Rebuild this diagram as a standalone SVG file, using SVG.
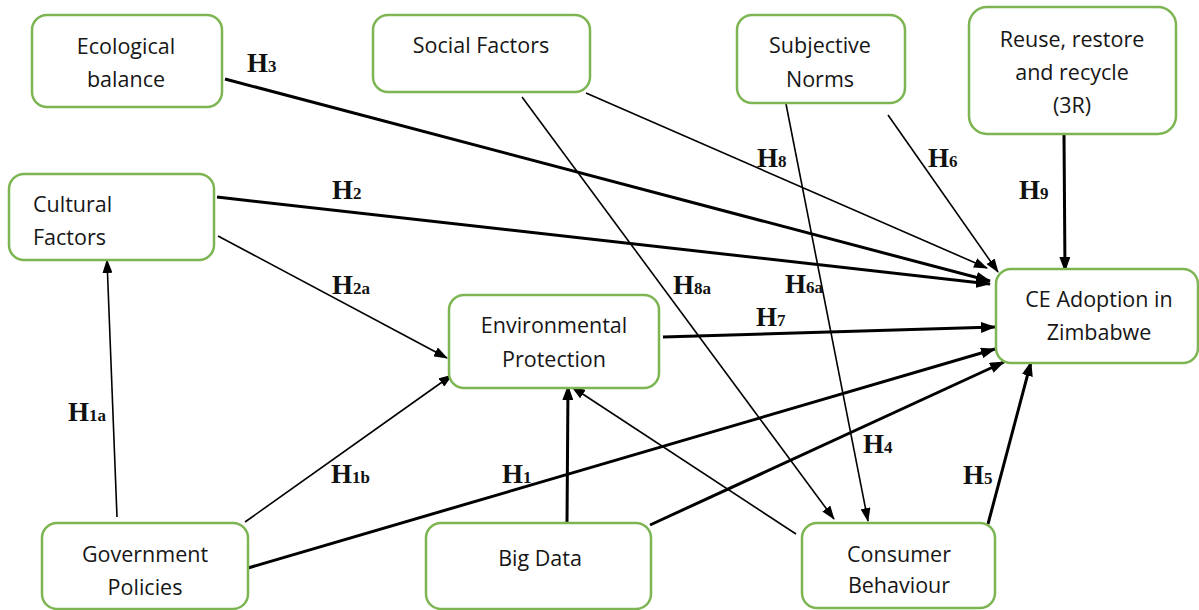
<svg xmlns="http://www.w3.org/2000/svg" width="1199" height="610" viewBox="0 0 1199 610">
  <style>
    .box { fill: #ffffff; stroke: #7cb552; stroke-width: 2.5; }
    .lbl { font-family: "Open Sans", "Liberation Sans", sans-serif; font-size: 21.5px; fill: #161616; }
    .mid { text-anchor: middle; }
    .h { font-family: "Liberation Serif", "Times New Roman", serif; font-weight: bold; font-size: 27px; fill: #111111; }
    .h tspan { font-size: 17px; }
    .thin { stroke: #000000; stroke-width: 1.6; fill: none; marker-end: url(#arrow); }
    .thick { stroke: #000000; stroke-width: 3; fill: none; marker-end: url(#arrowBig); }
  </style>
  <defs>
    <marker id="arrow" viewBox="0 0 14 10" refX="13" refY="5" markerWidth="14" markerHeight="10" markerUnits="userSpaceOnUse" orient="auto">
      <path d="M0,0 L14,5 L0,10 z" fill="#000000"/>
    </marker>
    <marker id="arrowBig" viewBox="0 0 15 11" refX="14" refY="5.5" markerWidth="15" markerHeight="11" markerUnits="userSpaceOnUse" orient="auto">
      <path d="M0,0 L15,5.5 L0,11 z" fill="#000000"/>
    </marker>
  </defs>

  <rect width="1199" height="610" fill="#ffffff"/>

  <!-- connectors -->
  <g id="connectors">
    <line class="thick" x1="225" y1="79" x2="990" y2="281"/>
    <line class="thick" x1="217" y1="197" x2="990" y2="284"/>
    <line class="thin" x1="218" y1="236" x2="447" y2="358"/>
    <line class="thin" x1="117" y1="517" x2="107" y2="260"/>
    <line class="thin" x1="245" y1="522" x2="452" y2="375"/>
    <line class="thick" x1="248" y1="568" x2="995" y2="349"/>
    <line class="thick" x1="567" y1="523" x2="568" y2="386"/>
    <line class="thick" x1="650" y1="525" x2="1004" y2="362"/>
    <line class="thin" x1="796" y1="534" x2="572" y2="387"/>
    <line class="thin" x1="522" y1="97" x2="834" y2="519"/>
    <line class="thin" x1="786" y1="104" x2="868" y2="521"/>
    <line class="thin" x1="586" y1="93" x2="987" y2="268"/>
    <line class="thin" x1="888" y1="115" x2="998" y2="272"/>
    <line class="thick" x1="1064" y1="135" x2="1065" y2="271"/>
    <line class="thick" x1="663" y1="337" x2="995" y2="327"/>
    <line class="thick" x1="988" y1="524" x2="1031" y2="362"/>
  </g>

  <!-- hypothesis labels -->
  <g id="hypotheses">
    <text class="h" x="247" y="72">H<tspan>3</tspan></text>
    <text class="h" x="332" y="199">H<tspan>2</tspan></text>
    <text class="h" x="332" y="294">H<tspan>2a</tspan></text>
    <text class="h" x="68" y="421">H<tspan>1a</tspan></text>
    <text class="h" x="331" y="483">H<tspan>1b</tspan></text>
    <text class="h" x="502" y="483">H<tspan>1</tspan></text>
    <text class="h" x="673" y="294">H<tspan>8a</tspan></text>
    <text class="h" x="785" y="293">H<tspan>6a</tspan></text>
    <text class="h" x="756" y="326">H<tspan>7</tspan></text>
    <text class="h" x="757" y="167">H<tspan>8</tspan></text>
    <text class="h" x="928" y="167">H<tspan>6</tspan></text>
    <text class="h" x="1019" y="199">H<tspan>9</tspan></text>
    <text class="h" x="863" y="453">H<tspan>4</tspan></text>
    <text class="h" x="963" y="484">H<tspan>5</tspan></text>
  </g>

  <!-- nodes -->
  <g id="ecological-balance">
    <rect class="box" x="32" y="15" width="190" height="92" rx="15"/>
    <text class="lbl mid" x="126" y="54">Ecological</text>
    <text class="lbl mid" x="126" y="87">balance</text>
  </g>
  <g id="cultural-factors">
    <rect class="box" x="9" y="174" width="205" height="86" rx="15"/>
    <text class="lbl" x="33" y="212">Cultural</text>
    <text class="lbl" x="33" y="245">Factors</text>
  </g>
  <g id="social-factors">
    <rect class="box" x="373" y="15" width="217" height="77" rx="15"/>
    <text class="lbl mid" x="481" y="53">Social Factors</text>
  </g>
  <g id="subjective-norms">
    <rect class="box" x="737" y="15" width="168" height="88" rx="15"/>
    <text class="lbl mid" x="820" y="53">Subjective</text>
    <text class="lbl mid" x="820" y="87">Norms</text>
  </g>
  <g id="reuse-restore-recycle">
    <rect class="box" x="969" y="7" width="207" height="127" rx="18"/>
    <text class="lbl mid" x="1072" y="47">Reuse, restore</text>
    <text class="lbl mid" x="1072" y="80">and recycle</text>
    <text class="lbl mid" x="1072" y="113">(3R)</text>
  </g>
  <g id="ce-adoption">
    <rect class="box" x="996" y="269" width="202" height="94" rx="15"/>
    <text class="lbl mid" x="1099" y="307">CE Adoption in</text>
    <text class="lbl mid" x="1099" y="340">Zimbabwe</text>
  </g>
  <g id="environmental-protection">
    <rect class="box" x="449" y="295" width="210" height="93" rx="15"/>
    <text class="lbl mid" x="554" y="333">Environmental</text>
    <text class="lbl mid" x="554" y="367">Protection</text>
  </g>
  <g id="government-policies">
    <rect class="box" x="42" y="523" width="206" height="86" rx="15"/>
    <text class="lbl mid" x="145" y="562">Government</text>
    <text class="lbl mid" x="145" y="595">Policies</text>
  </g>
  <g id="big-data">
    <rect class="box" x="426" y="523" width="225" height="86" rx="15"/>
    <text class="lbl mid" x="540" y="566">Big Data</text>
  </g>
  <g id="consumer-behaviour">
    <rect class="box" x="802" y="523" width="193" height="85" rx="15"/>
    <text class="lbl mid" x="899" y="562">Consumer</text>
    <text class="lbl mid" x="899" y="593">Behaviour</text>
  </g>
</svg>
